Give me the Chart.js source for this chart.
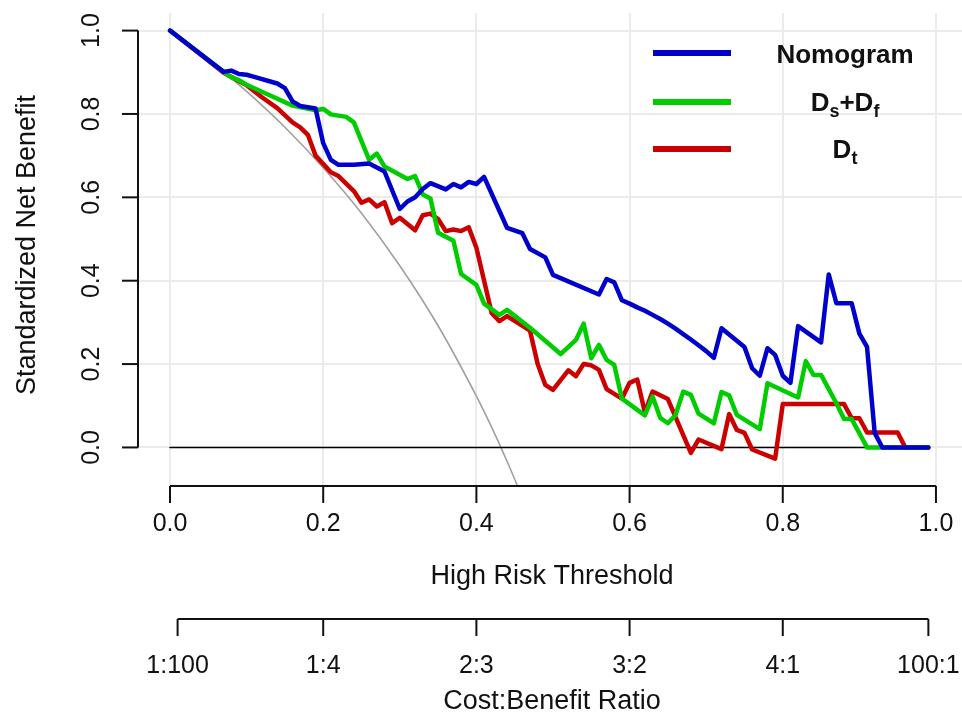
<!DOCTYPE html>
<html>
<head>
<meta charset="utf-8">
<script src="https://cdn.jsdelivr.net/npm/chart.js@4.4.1/dist/chart.umd.min.js"></script>
<style>
  html, body { margin: 0; padding: 0; background: #fff; }
  canvas { display: block; }
</style>
</head>
<body>
<canvas id="myChart" width="962" height="717"></canvas>
<script>
'use strict';

// threshold / standardized net benefit
let nomoX = [0, 0.07, 0.08, 0.09, 0.10, 0.11, 0.14, 0.15, 0.16, 0.17, 0.19, 0.20, 0.21, 0.22, 0.24, 0.26, 0.28, 0.30, 0.31, 0.32, 0.33, 0.34, 0.36, 0.37, 0.38, 0.39, 0.40, 0.41, 0.44, 0.46, 0.47, 0.49, 0.50, 0.56, 0.57, 0.58, 0.59, 0.60, 0.61, 0.62, 0.63, 0.64, 0.65, 0.66, 0.67, 0.68, 0.69, 0.70, 0.71, 0.72, 0.75, 0.76, 0.77, 0.78, 0.79, 0.80, 0.81, 0.82, 0.85, 0.86, 0.87, 0.89, 0.90, 0.91, 0.92, 0.93, 0.99];
let nomoY = [1.0, 0.901, 0.904, 0.896, 0.894, 0.889, 0.873, 0.862, 0.830, 0.819, 0.813, 0.730, 0.690, 0.678, 0.678, 0.681, 0.662, 0.572, 0.590, 0.600, 0.620, 0.634, 0.619, 0.632, 0.624, 0.637, 0.632, 0.649, 0.527, 0.514, 0.476, 0.456, 0.414, 0.367, 0.404, 0.396, 0.353, 0.345, 0.336, 0.328, 0.318, 0.308, 0.297, 0.285, 0.272, 0.259, 0.245, 0.231, 0.215, 0.286, 0.241, 0.190, 0.172, 0.238, 0.222, 0.172, 0.155, 0.291, 0.252, 0.415, 0.346, 0.346, 0.273, 0.241, 0.035, 0, 0];

let dsdfX = [0, 0.07, 0.08, 0.09, 0.10, 0.13, 0.16, 0.19, 0.20, 0.21, 0.23, 0.24, 0.26, 0.27, 0.28, 0.31, 0.32, 0.33, 0.34, 0.35, 0.37, 0.38, 0.40, 0.41, 0.43, 0.44, 0.47, 0.51, 0.53, 0.54, 0.55, 0.56, 0.57, 0.58, 0.59, 0.62, 0.63, 0.64, 0.65, 0.66, 0.67, 0.68, 0.69, 0.71, 0.72, 0.73, 0.74, 0.77, 0.78, 0.82, 0.83, 0.84, 0.85, 0.87, 0.88, 0.89, 0.91, 0.99];
let dsdfY = [1.0, 0.901, 0.888, 0.881, 0.870, 0.845, 0.820, 0.809, 0.812, 0.799, 0.793, 0.780, 0.690, 0.705, 0.674, 0.644, 0.651, 0.607, 0.597, 0.515, 0.496, 0.416, 0.390, 0.345, 0.318, 0.330, 0.287, 0.224, 0.258, 0.297, 0.214, 0.246, 0.210, 0.198, 0.117, 0.077, 0.122, 0.071, 0.058, 0.078, 0.134, 0.126, 0.081, 0.058, 0.133, 0.125, 0.078, 0.044, 0.154, 0.120, 0.207, 0.174, 0.174, 0.106, 0.068, 0.068, 0, 0];

let dtX = [0, 0.07, 0.10, 0.12, 0.14, 0.16, 0.17, 0.18, 0.19, 0.21, 0.22, 0.24, 0.25, 0.26, 0.27, 0.28, 0.29, 0.30, 0.32, 0.33, 0.34, 0.35, 0.36, 0.37, 0.38, 0.39, 0.40, 0.42, 0.43, 0.44, 0.47, 0.48, 0.49, 0.50, 0.52, 0.53, 0.54, 0.55, 0.56, 0.57, 0.59, 0.60, 0.61, 0.62, 0.63, 0.65, 0.68, 0.69, 0.72, 0.73, 0.74, 0.75, 0.76, 0.79, 0.80, 0.88, 0.89, 0.90, 0.91, 0.95, 0.96, 0.99];
let dtY = [1.0, 0.899, 0.869, 0.840, 0.814, 0.780, 0.768, 0.750, 0.700, 0.660, 0.651, 0.615, 0.587, 0.595, 0.578, 0.588, 0.538, 0.551, 0.521, 0.557, 0.561, 0.548, 0.519, 0.523, 0.519, 0.528, 0.479, 0.322, 0.303, 0.315, 0.280, 0.200, 0.150, 0.138, 0.185, 0.171, 0.200, 0.197, 0.186, 0.140, 0.117, 0.155, 0.163, 0.084, 0.134, 0.116, -0.013, 0.019, -0.004, 0.080, 0.042, 0.035, -0.005, -0.027, 0.104, 0.104, 0.070, 0.070, 0.036, 0.036, 0, 0];

// treat all (grey) and treat none (black)
let allX = [0, 0.05, 0.10, 0.15, 0.20, 0.25, 0.30, 0.35, 0.40, 0.42, 0.44, 0.455];
let allY = [1.0, 0.931, 0.854, 0.768, 0.671, 0.562, 0.436, 0.292, 0.123, 0.048, -0.033, -0.098];
let noneX = [0, 0.99];
let noneY = [0, 0];

let xTicks = [0, 0.2, 0.4, 0.6, 0.8, 1.0];
let yTicks = [0, 0.2, 0.4, 0.6, 0.8, 1.0];
let cbLabels = ['1:100', '1:4', '2:3', '3:2', '4:1', '100:1'];

let seriesNames = ['Nomogram', 'Ds+Df', 'Dt'];
let seriesColors = ['#0000CD', '#00CD00', '#CD0000'];
// legend text pieces: [text, subscript?]
let legendParts = [
  [['Nomogram', 0]],
  [['D', 0], ['s', 1], ['+D', 0], ['f', 1]],
  [['D', 0], ['t', 1]]
];

const FONT = '"Liberation Sans", Arial, Helvetica, sans-serif';

function zip(xs, ys) {
  let out = [];
  for (let i = 0; i < xs.length; i++) {
    out.push({x: xs[i], y: ys[i]});
  }
  return out;
}

function drawText(ctx, str, x, y, size, rot) {
  ctx.save();
  ctx.translate(x, y);
  if (rot) ctx.rotate(-Math.PI / 2);
  ctx.font = size + 'px ' + FONT;
  ctx.fillStyle = '#111';
  ctx.textAlign = 'center';
  ctx.textBaseline = 'middle';
  ctx.fillText(str, 0, 0);
  ctx.restore();
}

function line(ctx, x1, y1, x2, y2) {
  ctx.beginPath();
  ctx.moveTo(x1, y1);
  ctx.lineTo(x2, y2);
  ctx.stroke();
}

// axes the R way: lines only between first and last tick, ticks outward
let rAxes = {
  id: 'rAxes',
  afterDraw(chart) {
    let ctx = chart.ctx;
    let xs = chart.scales.x;
    let ys = chart.scales.y;
    let area = chart.chartArea;
    let midX = (area.left + area.right) / 2 + 2;
    ctx.save();
    ctx.strokeStyle = '#111';
    ctx.lineWidth = 2;
    ctx.lineCap = 'butt';

    // bottom axis
    let yAx = area.bottom;
    line(ctx, xs.getPixelForValue(xTicks[0]), yAx, xs.getPixelForValue(xTicks[xTicks.length - 1]), yAx);
    xTicks.forEach(v => {
      let px = xs.getPixelForValue(v);
      line(ctx, px, yAx, px, yAx + 17);
      drawText(ctx, v.toFixed(1), px, 524, 25, false);
    });
    drawText(ctx, 'High Risk Threshold', midX, 577, 27, false);

    // cost:benefit axis
    let yCb = 619;
    let cbPos = cbLabels.map(s => {
      let p = s.split(':').map(Number);
      return p[0] / (p[0] + p[1]);
    });
    line(ctx, xs.getPixelForValue(cbPos[0]), yCb, xs.getPixelForValue(cbPos[cbPos.length - 1]), yCb);
    cbPos.forEach((v, i) => {
      let px = xs.getPixelForValue(v);
      line(ctx, px, yCb, px, yCb + 17);
      drawText(ctx, cbLabels[i], px, 666, 25, false);
    });
    drawText(ctx, 'Cost:Benefit Ratio', midX, 702, 27, false);

    // left axis
    let xAx = area.left;
    line(ctx, xAx, ys.getPixelForValue(yTicks[0]), xAx, ys.getPixelForValue(yTicks[yTicks.length - 1]));
    yTicks.forEach(v => {
      let py = ys.getPixelForValue(v);
      line(ctx, xAx - 16, py, xAx, py);
      drawText(ctx, v.toFixed(1), 92, py, 25, true);
    });
    drawText(ctx, 'Standardized Net Benefit', 28, 245, 27, true);

    // legend
    let legY = [53, 102, 149];
    let baseY = [63, 111, 158];
    seriesNames.forEach((n, i) => {
      ctx.strokeStyle = seriesColors[i];
      ctx.lineWidth = 6;
      line(ctx, 653, legY[i], 731, legY[i]);
      let parts = legendParts[i];
      let big = 'bold 26px ' + FONT;
      let small = 'bold 18px ' + FONT;
      let total = 0;
      parts.forEach(p => {
        ctx.font = p[1] ? small : big;
        total += ctx.measureText(p[0]).width;
      });
      let x = 845 - total / 2;
      ctx.fillStyle = '#111';
      ctx.textAlign = 'left';
      ctx.textBaseline = 'alphabetic';
      parts.forEach(p => {
        ctx.font = p[1] ? small : big;
        ctx.fillText(p[0], x, baseY[i] + (p[1] ? 6 : 0));
        x += ctx.measureText(p[0]).width;
      });
    });
    ctx.restore();
  }
};

let ctx = document.getElementById('myChart').getContext('2d');
new Chart(ctx, {
  type: 'line',
  data: {
    datasets: [
      {label: seriesNames[0], data: zip(nomoX, nomoY), borderColor: seriesColors[0], borderWidth: 4.5},
      {label: seriesNames[1], data: zip(dsdfX, dsdfY), borderColor: seriesColors[1], borderWidth: 4.5},
      {label: seriesNames[2], data: zip(dtX, dtY), borderColor: seriesColors[2], borderWidth: 4.5},
      {label: 'None', data: zip(noneX, noneY), borderColor: '#000', borderWidth: 1.6},
      {label: 'All', data: zip(allX, allY), borderColor: '#a0a0a0', borderWidth: 1.6, cubicInterpolationMode: 'monotone'}
    ]
  },
  options: {
    responsive: false,
    animation: false,
    devicePixelRatio: 1,
    layout: {padding: {left: 138, top: 13, right: 0, bottom: 231}},
    elements: {
      point: {radius: 0, hoverRadius: 0},
      line: {tension: 0, borderJoinStyle: 'round', borderCapStyle: 'round', fill: false}
    },
    plugins: {
      legend: {display: false},
      tooltip: {enabled: false}
    },
    scales: {
      x: {
        type: 'linear',
        min: -0.0418,
        max: 1.034,
        afterBuildTicks: s => { s.ticks = xTicks.map(v => ({value: v})); },
        ticks: {display: false},
        grid: {color: '#ebebeb', lineWidth: 2, drawTicks: false},
        border: {display: false}
      },
      y: {
        type: 'linear',
        min: -0.0925,
        max: 1.0422,
        afterBuildTicks: s => { s.ticks = yTicks.map(v => ({value: v})); },
        ticks: {display: false},
        grid: {color: '#ebebeb', lineWidth: 2, drawTicks: false},
        border: {display: false}
      }
    }
  },
  plugins: [rAxes]
});
</script>
</body>
</html>
